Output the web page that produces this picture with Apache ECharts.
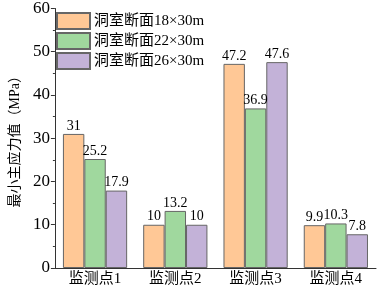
<!DOCTYPE html>
<html><head><meta charset="utf-8">
<script src="https://cdn.jsdelivr.net/npm/echarts@6/dist/echarts.min.js"></script>
<style>html,body{margin:0;padding:0;background:#fff}#c{width:378px;height:291px}</style>
</head><body><div id="c"></div>
<script>
var categories = ['监测点1','监测点2','监测点3','监测点4'];
var seriesNames = ['洞室断面18×30m','洞室断面22×30m','洞室断面26×30m'];
var s18 = [31, 10, 47.2, 9.9];
var s22 = [25.2, 13.2, 36.9, 10.3];
var s26 = [17.9, 10, 47.6, 7.8];
var yTicks = [0, 10, 20, 30, 40, 50, 60];
var colors = ['#FFC896', '#A0D89E', '#C3B2D8'];
var fontFam = '"Liberation Serif","Noto Sans CJK SC",serif';
var chart = echarts.init(document.getElementById('c'));
var dataSets = [s18, s22, s26];
chart.setOption({
  animation: false,
  grid: {left: 44, right: 2, top: 8, bottom: 23},
  legend: {
    left: 51, top: 7, orient: 'vertical', itemWidth: 33, itemHeight: 16, itemGap: 2,
    textStyle: {fontFamily: fontFam, fontSize: 15, color: '#000', padding: [0,0,0,-1]},
    data: seriesNames.map(function(n){return {name:n, icon:'rect'};})
  },
  xAxis: [{
    type: 'category', data: categories,
    axisLine: {lineStyle: {color: '#333', width: 1}},
    axisTick: {alignWithLabel: true, length: 4, lineStyle: {color: '#333'}},
    axisLabel: {fontFamily: fontFam, fontSize: 15, color: '#000', margin: 4}
  },{
    type: 'category', data: categories, position: 'bottom',
    axisLine: {show: false},
    axisTick: {length: 2, lineStyle: {color: '#333'}},
    axisLabel: {show: false}
  }],
  yAxis: {
    type: 'value', min: yTicks[0], max: yTicks[yTicks.length-1], interval: 10,
    name: '最小主应力值（MPa）', nameLocation: 'middle', nameGap: 31,
    nameTextStyle: {fontFamily: fontFam, fontSize: 14, color: '#000'},
    axisLine: {show: true, lineStyle: {color: '#333'}},
    axisTick: {show: true, length: 4, lineStyle: {color: '#333'}},
    minorTick: {show: true, splitNumber: 2, length: 2, lineStyle: {color: '#333'}},
    splitLine: {show: false},
    axisLabel: {fontFamily: fontFam, fontSize: 17, color: '#000', margin: 5}
  },
  series: seriesNames.map(function(n, i){
    return {
      name: n, type: 'bar', data: dataSets[i], barGap: '0%', barCategoryGap: '20%',
      itemStyle: {color: colors[i], borderColor: '#666', borderWidth: 1},
      label: {show: true, position: 'top', distance: 1, fontFamily: fontFam, fontSize: 14, color: '#000'}
    };
  })
});
</script></body></html>
